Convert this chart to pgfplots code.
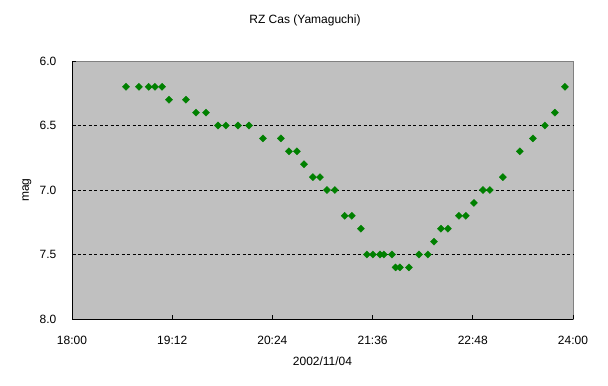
\documentclass[border=0pt]{standalone}
\usepackage{pgfplots}
\pgfplotsset{compat=1.18}
\usepackage{fontspec}
\setmainfont{Liberation Sans}
\definecolor{plotbg}{HTML}{C0C0C0}
\definecolor{mk}{HTML}{008000}
\begin{document}
\begin{tikzpicture}
\path[use as bounding box] (0,0) rectangle (608bp,386bp);
\begin{axis}[
  at={(72bp,67bp)}, anchor=south west,
  scale only axis, width=501bp, height=258bp,
  xmin=0, xmax=360, ymin=6, ymax=8, y dir=reverse,
  axis background/.style={fill=plotbg, draw=gray},
  axis x line*=bottom, axis y line*=left,
  axis line style={black, line width=0.8bp},
  tick align=inside, major tick length=4bp,
  tick style={black, line width=0.8bp},
  xtick={0,72,144,216,288,360},
  xticklabels={18:00,19:12,20:24,21:36,22:48,24:00},
  ytick={6,6.5,7,7.5,8},
  yticklabel style={/pgf/number format/fixed, /pgf/number format/fixed zerofill, /pgf/number format/precision=1, anchor=center, xshift=-24bp},
  xticklabel style={anchor=center, yshift=-21bp},
  /pgf/number format/assume math mode=true,
  ticklabel style={font=\fontsize{12bp}{14bp}\selectfont},
  extra y ticks={6.5,7,7.5}, extra y tick labels={},
  extra y tick style={grid=major, major tick length=0pt},
  major grid style={black, line width=0.8bp, dash pattern=on 3bp off 2.5bp},
  title={RZ Cas (Yamaguchi)},
  title style={at={(axis description cs:0.465,1)}, anchor=center, yshift=35bp, font=\fontsize{12bp}{14bp}\selectfont},
  xlabel={2002/11/04},
  xlabel style={at={(axis description cs:0.5,0)}, anchor=center, yshift=-42bp, font=\fontsize{12bp}{14bp}\selectfont},
  ylabel={mag},
  ylabel style={at={(axis description cs:-0.0898,0.5)}, anchor=center, font=\fontsize{12bp}{14bp}\selectfont},
  clip=false,
]
\addplot[only marks, mark=square*, mark size=2.5bp, mk, mark options={fill=mk, draw=mk, rotate=45}] coordinates {
(38.8,6.2) (48.1,6.2) (55.1,6.2) (59.6,6.2) (64.7,6.2)
(69.7,6.3) (81.9,6.3)
(89.1,6.4) (96.3,6.4)
(104.9,6.5) (110.6,6.5) (119.3,6.5) (127.2,6.5)
(137.2,6.6) (150.1,6.6)
(155.9,6.7) (161.6,6.7)
(166.7,6.8)
(173.1,6.9) (178.2,6.9)
(183.2,7.0) (188.9,7.0)
(195.9,7.2) (201.1,7.2)
(207.6,7.3)
(211.9,7.5) (216.2,7.5) (221.3,7.5) (224.1,7.5) (229.9,7.5)
(232.5,7.6) (235.6,7.6) (242.1,7.6)
(249.3,7.5) (255.7,7.5)
(260.1,7.4)
(265.1,7.3) (270.1,7.3)
(278.0,7.2) (283.0,7.2)
(288.8,7.1)
(295.3,7.0) (300.3,7.0)
(309.6,6.9)
(321.8,6.7)
(331.2,6.6)
(339.8,6.5)
(347.0,6.4)
(354.2,6.2)
};
\end{axis}
\end{tikzpicture}
\end{document}
